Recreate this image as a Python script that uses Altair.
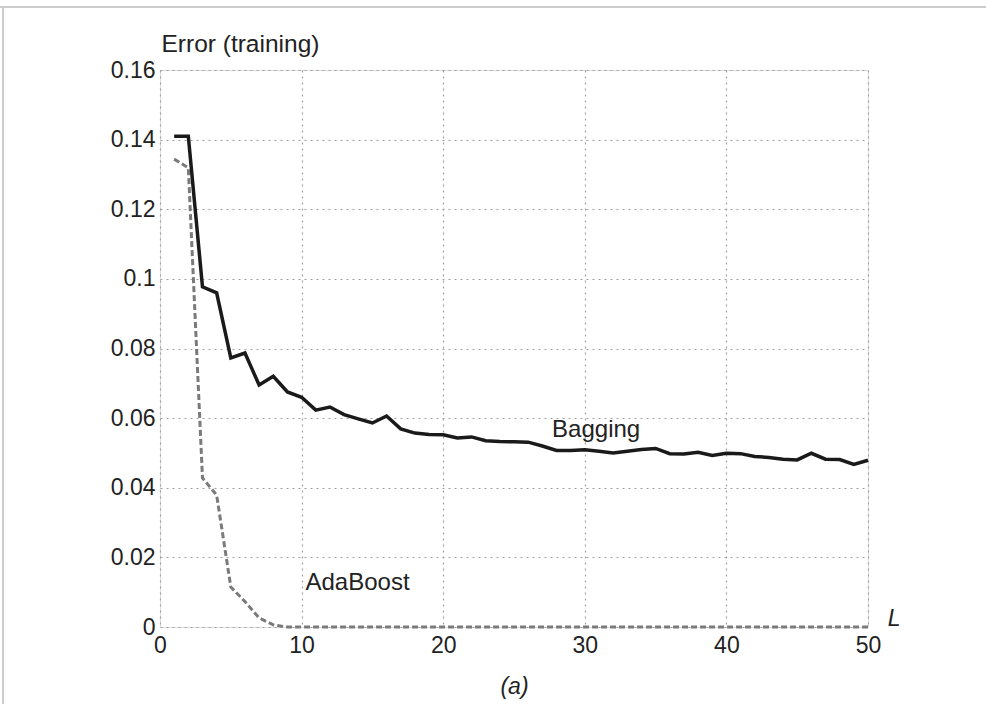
import altair as alt
import pandas as pd

# ensemble size L
sizes = list(range(1, 51))

bagging = [0.141, 0.141, 0.0977, 0.096, 0.0773, 0.0787, 0.0695, 0.072, 0.0675, 0.066,
           0.0623, 0.0632, 0.061, 0.0598, 0.0586, 0.0606, 0.0569, 0.0557, 0.0553, 0.0552,
           0.0543, 0.0546, 0.0535, 0.0533, 0.0532, 0.0531, 0.052, 0.0507, 0.0507, 0.0509,
           0.0505, 0.050, 0.0505, 0.051, 0.0513, 0.0498, 0.0497, 0.0502, 0.0493, 0.0499,
           0.0498, 0.049, 0.0487, 0.0482, 0.048, 0.0499, 0.0482, 0.0481, 0.0467, 0.0479]

adaboost = [0.1344, 0.1319, 0.0428, 0.0379, 0.0115, 0.0073, 0.0026, 0.0006, 0.0, 0.0,
            0.0, 0.0, 0.0, 0.0, 0.0, 0.0, 0.0, 0.0, 0.0, 0.0,
            0.0, 0.0, 0.0, 0.0, 0.0, 0.0, 0.0, 0.0, 0.0, 0.0,
            0.0, 0.0, 0.0, 0.0, 0.0, 0.0, 0.0, 0.0, 0.0, 0.0,
            0.0, 0.0, 0.0, 0.0, 0.0, 0.0, 0.0, 0.0, 0.0, 0.0]

label_text = ["Bagging", "AdaBoost"]
label_x = [30.8, 13.95]
label_y = [0.0546, 0.0106]

axis_name = ["L"]
axis_name_x = [51.4]
axis_name_y = [0.0]

x_ticks = [0, 10, 20, 30, 40, 50]
y_ticks = [0, 0.02, 0.04, 0.06, 0.08, 0.1, 0.12, 0.14, 0.16]

FONT = "Liberation Sans"
INK = "#222222"

df_bag = pd.DataFrame({"L": sizes, "err": bagging})
df_ada = pd.DataFrame({"L": sizes, "err": adaboost})
df_lab = pd.DataFrame({"t": label_text, "L": label_x, "err": label_y})
df_name = pd.DataFrame({"t": axis_name, "L": axis_name_x, "err": axis_name_y})

xs = alt.Scale(domain=[0, 50], nice=False, zero=False)
ys = alt.Scale(domain=[0, 0.16], nice=False)

x_axis = alt.Axis(values=x_ticks, title="(a)", titleFontStyle="italic", titleFontWeight="normal",
                  titleFontSize=23, titleFont=FONT, titleColor=INK, titleX=354, titleY=48,
                  titleAlign="center", titleBaseline="top",
                  labelFontSize=23, labelFont=FONT, labelColor=INK, labelPadding=7,
                  ticks=False, domain=False, grid=True, gridColor="#a0a0a0",
                  gridDash=[2, 4], gridWidth=1.2, labelFlush=False)
y_axis = alt.Axis(values=y_ticks, format="~g", title="Error (training)", titleAngle=0,
                  titleFontWeight="normal", titleFontSize=24.5, titleFont=FONT, titleColor=INK,
                  titleX=1, titleY=-19, titleAlign="left", titleBaseline="alphabetic",
                  labelFontSize=23, labelFont=FONT, labelColor=INK, labelPadding=5,
                  ticks=False, domain=False, grid=True, gridColor="#a0a0a0",
                  gridDash=[2, 4], gridWidth=1.2, labelFlush=False)

ada = alt.Chart(df_ada).mark_line(color="#7a7a7a", strokeWidth=3, strokeDash=[6, 3]).encode(
    x=alt.X("L:Q", scale=xs, axis=x_axis),
    y=alt.Y("err:Q", scale=ys, axis=y_axis),
)
bag = alt.Chart(df_bag).mark_line(color="#1a1a1a", strokeWidth=3.5).encode(
    x=alt.X("L:Q", scale=xs),
    y=alt.Y("err:Q", scale=ys),
)
labels = alt.Chart(df_lab).mark_text(font=FONT, fontSize=24, color=INK, align="center",
                                     baseline="alphabetic").encode(
    x=alt.X("L:Q", scale=xs),
    y=alt.Y("err:Q", scale=ys),
    text="t:N",
)
name = alt.Chart(df_name).mark_text(font=FONT, fontSize=23, fontStyle="italic", color=INK,
                                    align="left", baseline="alphabetic", dy=-1).encode(
    x=alt.X("L:Q", scale=xs),
    y=alt.Y("err:Q", scale=ys),
    text="t:N",
)
border_top = alt.Chart(df_lab).mark_rule(color="#cccccc", strokeWidth=2).encode(
    x=alt.value(-160), x2=alt.value(826), y=alt.value(-63))
border_left = alt.Chart(df_lab).mark_rule(color="#cccccc", strokeWidth=2).encode(
    x=alt.value(-157), y=alt.value(-63), y2=alt.value(634))

chart = alt.layer(ada, bag, labels, name, border_top, border_left).properties(
    width=708, height=557,
    autosize=alt.AutoSizeParams(type="none"),
    padding={"left": 160, "top": 70, "right": 118, "bottom": 77},
).configure_view(stroke="#8a8a8a", strokeWidth=2).configure(background="white")

chart.save("out.html", embed_options={"renderer": "svg", "actions": False})
